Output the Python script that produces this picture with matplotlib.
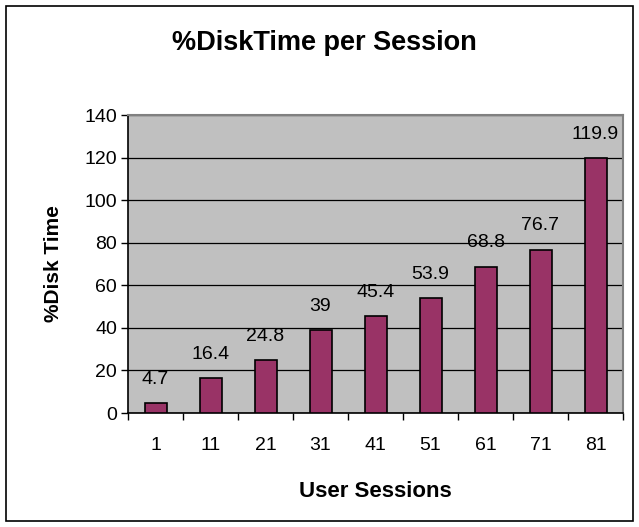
import matplotlib
matplotlib.use('Agg')
import matplotlib.pyplot as plt
from matplotlib.patches import Rectangle

plt.rcParams['font.family'] = ['Liberation Sans', 'DejaVu Sans']

# 数据
sessions = ['1', '11', '21', '31', '41', '51', '61', '71', '81']
disk_time = [4.7, 16.4, 24.8, 39, 45.4, 53.9, 68.8, 76.7, 119.9]
value_labels = ['4.7', '16.4', '24.8', '39', '45.4', '53.9', '68.8', '76.7', '119.9']
y_ticks = [0, 20, 40, 60, 80, 100, 120, 140]

W, H = 639, 527
fig = plt.figure(figsize=(W / 100, H / 100), dpi=100)

# 外框
fig.patches.append(Rectangle((6 / W, 6 / H), 627 / W, 515 / H, transform=fig.transFigure,
                             fill=False, edgecolor='black', linewidth=1.2))

# 绘图区位置（像素换算）
left, right, top, bottom = 128, 623, 115, 413
ax = fig.add_axes([left / W, 1 - bottom / H, (right - left) / W, (bottom - top) / H])
ax.set_facecolor('#C0C0C0')

x = range(len(sessions))
ax.bar(x, disk_time, width=0.4, color='#993366', edgecolor='black', linewidth=1.2, zorder=3)

for i, (v, lab) in enumerate(zip(disk_time, value_labels)):
    ax.annotate(lab, (i, v), xytext=(0, 11), textcoords='offset points',
                ha='center', va='bottom', fontsize=14)

ax.set_xlim(-0.5, len(sessions) - 0.5)
ax.set_ylim(0, 140)
ax.set_yticks(y_ticks)
ax.yaxis.grid(True, color='black', linewidth=0.9, zorder=1)
ax.set_axisbelow(True)

ax.set_xticks(list(x))
ax.set_xticklabels(sessions, fontsize=14)
ax.set_xticks([i - 0.5 for i in range(len(sessions) + 1)], minor=True)
ax.tick_params(axis='x', which='major', length=0, pad=17)
ax.tick_params(axis='x', which='minor', length=5, width=1, direction='out')
ax.tick_params(axis='y', length=5, width=1, direction='out', labelsize=14, pad=3)

for s in ['top', 'right']:
    ax.spines[s].set_color('#808080')
    ax.spines[s].set_linewidth(1.5)
for s in ['left', 'bottom']:
    ax.spines[s].set_color('black')
    ax.spines[s].set_linewidth(1.2)

ax.set_xlabel('User Sessions', fontsize=16, fontweight='bold', labelpad=20)
ax.set_ylabel('%Disk Time', fontsize=15, fontweight='bold', labelpad=15)

fig.text(324 / W, 1 - 50 / H, '%DiskTime per Session', ha='center', va='baseline',
         fontsize=19.5, fontweight='bold')

plt.savefig('out.png', dpi=100)
